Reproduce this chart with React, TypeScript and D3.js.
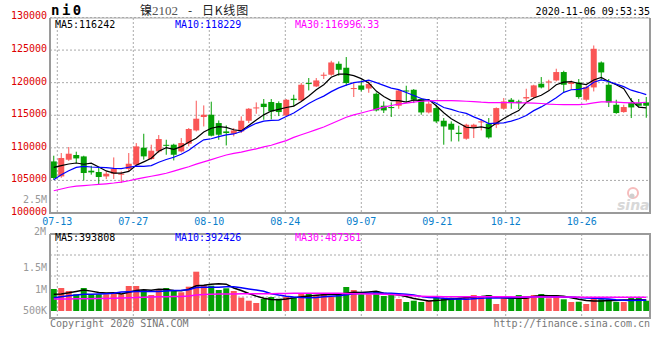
import React, { useEffect } from "react";
import * as d3 from "d3";

// trading days shown (07-10 .. 11-06)
const dates = [
  "07-10", "07-13", "07-14", "07-15", "07-16", "07-17", "07-20", "07-21", "07-22", "07-23",
  "07-24", "07-27", "07-28", "07-29", "07-30", "07-31", "08-03", "08-04", "08-05", "08-06",
  "08-07", "08-10", "08-11", "08-12", "08-13", "08-14", "08-17", "08-18", "08-19", "08-20",
  "08-21", "08-24", "08-25", "08-26", "08-27", "08-28", "08-31", "09-01", "09-02", "09-03",
  "09-04", "09-07", "09-08", "09-09", "09-10", "09-11", "09-14", "09-15", "09-16", "09-17",
  "09-18", "09-21", "09-22", "09-23", "09-24", "09-25", "09-28", "09-29", "09-30", "10-09",
  "10-12", "10-13", "10-14", "10-15", "10-16", "10-19", "10-20", "10-21", "10-22", "10-23",
  "10-26", "10-27", "10-28", "10-29", "10-30", "11-02", "11-03", "11-04", "11-05", "11-06",
];

const opens = [
  107915, 105614, 108176, 108897, 108682, 106490, 106290, 105610, 106030, 105870,
  106750, 107410, 110020, 108280, 109450, 110460, 110480, 109450, 110630, 112670,
  114730, 115080, 113800, 112520, 112160, 112520, 114160, 116050, 116770, 117030,
  116870, 114970, 117540, 117280, 119940, 119420, 121060, 121220, 122900, 122290,
  119020, 119570, 119100, 118300, 116460, 116260, 116460, 118800, 118910, 117490,
  115430, 116100, 114160, 113700, 112320, 111400, 113140, 113900, 113700, 113540,
  116000, 117380, 117120, 117580, 117790, 119840, 120030, 120340, 121630, 119790,
  120030, 117380, 119270, 123100, 119680, 116610, 115490, 116870, 116870, 116970,
];
const highs = [
  108790, 109204, 110124, 109404, 108790, 107250, 106900, 106440, 108530, 106380,
  109200, 110730, 112160, 110480, 111960, 111240, 110630, 111500, 113040, 117230,
  116510, 117080, 114200, 113440, 113040, 114830, 116100, 116970, 117490, 117490,
  117130, 117490, 118150, 119940, 120710, 120710, 121570, 123360, 123260, 123930,
  119940, 120340, 120210, 118500, 117120, 116970, 118960, 119530, 119020, 117640,
  117130, 116610, 114570, 114060, 113390, 113700, 113700, 114420, 114570, 116200,
  117640, 117640, 117380, 119070, 119680, 120860, 120450, 122140, 121830, 120340,
  120560, 119530, 125710, 123260, 120560, 117380, 116610, 117640, 117490, 117800,
];
const lows = [
  105110, 105400, 108000, 107670, 105000, 105880, 104340, 105200, 105220, 104600,
  106440, 107250, 108180, 108180, 109200, 108940, 108070, 109300, 110220, 112520,
  113280, 111760, 111240, 110370, 111760, 112270, 113800, 115230, 114310, 114370,
  114870, 114820, 116350, 117130, 118810, 119330, 120560, 121060, 121060, 119530,
  117800, 118650, 118450, 115580, 115340, 114730, 115990, 116970, 116870, 115080,
  115280, 113800, 110480, 110980, 110980, 111240, 111500, 112670, 111400, 113030,
  115840, 115990, 115950, 117120, 117640, 119120, 118810, 120190, 118450, 118960,
  117530, 117120, 118650, 120450, 116260, 115230, 115390, 114570, 116200, 114620,
];
const closes = [
  105370, 108437, 109097, 108376, 106136, 106230, 105520, 106030, 106750, 106030,
  107560, 110220, 108690, 109560, 111350, 110350, 108940, 110740, 112890, 114470,
  115080, 111860, 112010, 112270, 112670, 114160, 116000, 116200, 116260, 115590,
  115490, 117380, 117330, 119680, 119840, 120340, 121220, 123100, 121980, 119940,
  119180, 118910, 119790, 115740, 115740, 116100, 118800, 118650, 117380, 115430,
  116770, 114050, 113280, 112780, 112120, 113550, 113550, 114060, 111600, 116100,
  117120, 116870, 116870, 117790, 119580, 119270, 120190, 121630, 119680, 120100,
  117790, 119330, 125200, 121570, 116970, 115340, 116260, 116200, 116460, 116460,
];

const volumes = [
  786000, 821000, 714000, 596000, 821000, 596000, 596000, 596000, 668000, 596000,
  893000, 893000, 750000, 571000, 786000, 821000, 750000, 668000, 868000, 1404000,
  929000, 904000, 750000, 811000, 714000, 475000, 368000, 286000, 429000, 500000,
  439000, 500000, 475000, 632000, 632000, 571000, 607000, 511000, 607000, 857000,
  750000, 596000, 596000, 714000, 536000, 571000, 429000, 321000, 368000, 321000,
  368000, 475000, 454000, 475000, 475000, 536000, 571000, 511000, 571000, 250000,
  454000, 475000, 571000, 536000, 571000, 607000, 454000, 571000, 418000, 321000,
  332000, 250000, 475000, 418000, 418000, 321000, 321000, 475000, 475000, 368000,
];

// moving averages: first points (history not on chart)
const ma5Head = [107000, 107260, 107520, 107670];
const ma10Head = [105110, 105870, 106490, 107000, 107150, 107060, 107000, 106950, 106840];
const ma30 = [
  103420, 103680, 103950, 104120, 104200, 104300, 104380, 104480, 104600, 104750,
  104950, 105200, 105420, 105640, 105860, 106100, 106420, 106760, 107100, 107500,
  107850, 108200, 108550, 108900, 109150, 109350, 109600, 109850, 110150, 110400,
  110750, 111100, 111600, 112000, 112400, 112800, 113200, 113700, 114200, 114700,
  115050, 115350, 115650, 115950, 116250, 116500, 116700, 116850, 117000, 117150,
  117200, 117230, 117230, 117230, 117200, 117150, 117100, 117000, 116950, 116950,
  116950, 116950, 116900, 116900, 116850, 116800, 116700, 116650, 116620, 116620,
  116620, 116700, 116900, 117050, 117050, 117000, 116950, 116900, 116900, 116996,
];
const volMa5Head = [596000, 610000, 650000, 700000];
const volMa10Head = [475000, 511000, 546000, 571000, 596000, 600000, 610000, 620000, 630000];
const volMa30 = [
  430000, 430000, 432000, 434000, 436000, 440000, 445000, 450000, 455000, 460000,
  470000, 480000, 490000, 500000, 505000, 510000, 515000, 520000, 540000, 570000,
  590000, 600000, 605000, 608000, 610000, 612000, 614000, 616000, 618000, 620000,
  624000, 628000, 630000, 632000, 632000, 632000, 632000, 632000, 630000, 626000,
  620000, 615000, 610000, 605000, 600000, 590000, 575000, 560000, 545000, 530000,
  520000, 515000, 512000, 510000, 510000, 510000, 510000, 510000, 510000, 508000,
  506000, 505000, 504000, 503000, 502000, 501000, 500000, 500000, 498000, 496000,
  494000, 492000, 490000, 489000, 488000, 488000, 488000, 487000, 487000, 487000,
];

const priceTicks = [130000, 125000, 120000, 115000, 110000, 105000, 100000];
const dateTicks = ["07-13", "07-27", "08-10", "08-24", "09-07", "09-21", "10-12", "10-26"];
const volTicks = [
  { label: "1.5M", v: 1500000 },
  { label: "1M", v: 1000000 },
  { label: "500K", v: 500000 },
];
const priceMaText = ["MA5:116242", "MA10:118229", "MA30:116996.33"];
const volMaText = ["MA5:393808", "MA10:392426", "MA30:487361"];

const W = 660;
const H = 360;
const L = 50;
const R = 650;
const pTop = 18;
const pBot = 213;
const vTop = 234;
const vBot = 318;

const RED = "#fa5656";
const GREEN = "#04a004";
const MA_COLORS = ["#000000", "#0000ff", "#ff00ff"];
const GRID = "#aaaaaa";
const FRAME = "#9a9a9a";
const MONO = "'DejaVu Sans Mono', monospace";
const CJK = "'Noto Sans CJK SC', sans-serif";

const movingAvg = (vals: number[], n: number, head: number[]) =>
  vals.map((_, i) => (i < head.length ? head[i] : (d3.mean(vals.slice(i - n + 1, i + 1)) as number)));

const App = () => {
  useEffect(() => {
    document.body.style.margin = "0";
  }, []);

  const x = d3.scaleBand<string>().domain(dates).range([L, R]).paddingInner(0.2).paddingOuter(0.1);
  const cx = (d: string) => (x(d) as number) + x.bandwidth() / 2;
  // date grid lines sit slightly off the candle centres in the original
  const gx = d3.scaleLinear().domain([1, 70]).range([57.3, 581.7]);
  const y = d3.scaleLinear().domain([100000, 130000]).range([pBot, 17.5]);
  const yv = d3.scaleLinear().domain([0, 2000000]).range([311, 255]);
  const yvLabel = d3.scaleLinear().domain([500000, 1500000]).range([314, 271]);

  const ma5 = movingAvg(closes, 5, ma5Head);
  const ma10 = movingAvg(closes, 10, ma10Head);
  const vma5 = movingAvg(volumes, 5, volMa5Head);
  const vma10 = movingAvg(volumes, 10, volMa10Head);

  const priceLine = d3
    .line<number>()
    .x((_, i) => cx(dates[i]))
    .y((d) => y(d));
  const volLine = d3
    .line<number>()
    .x((_, i) => cx(dates[i]))
    .y((d) => yv(d));

  const bw = x.bandwidth();
  const up = (i: number) => closes[i] >= opens[i];

  return (
    <svg width={W} height={H} style={{ display: "block", background: "#fff" }}>
      <defs>
        <clipPath id="pclip">
          <rect x={L} y={pTop} width={R - L} height={pBot - pTop} />
        </clipPath>
      </defs>

      {/* header */}
      <text x={51} y={15} fontFamily={MONO} fontWeight="bold" fontSize={14} letterSpacing={2.5} fill="#000">
        ni0
      </text>
      <text x={140} y={15} fontFamily={CJK} fontSize={12} fill="#222">
        镍<tspan fill="#555" fontFamily="'Liberation Serif', serif" fontSize={13}>2102</tspan>
      </text>
      <text x={188} y={15} fontFamily={CJK} fontSize={12} fill="#222">
        -
      </text>
      <text x={202} y={15} fontFamily={CJK} fontSize={12} fill="#222" letterSpacing={0.8}>
        日K线图
      </text>
      <text x={650} y={15} textAnchor="end" fontFamily={MONO} fontSize={10} fill="#000">
        2020-11-06 09:53:35
      </text>

      {/* price grid */}
      {priceTicks.slice(0, 6).map((t) => (
        <line key={t} x1={L} x2={R} y1={y(t)} y2={y(t)} stroke={GRID} strokeDasharray="2,2" />
      ))}
      {dateTicks.map((d) => {
        const gxv = gx(dates.indexOf(d));
        return (
          <g key={d}>
            <line x1={gxv} x2={gxv} y1={pTop} y2={pBot} stroke={GRID} strokeDasharray="2,2" />
            <line x1={gxv} x2={gxv} y1={vTop} y2={vBot} stroke={GRID} strokeDasharray="2,2" />
            <text x={gxv} y={225} textAnchor="middle" fontFamily={MONO} fontSize={10} fill="#0a7fcc">
              {d}
            </text>
          </g>
        );
      })}
      {priceTicks.map((t) => (
        <text key={t} x={47} y={t === 130000 ? 19 : y(t) + 2} textAnchor="end" fontFamily={MONO} fontSize={10} fill="#dd0000">
          {t}
        </text>
      ))}
      <text x={47} y={203} textAnchor="end" fontFamily={MONO} fontSize={10} fill="#999">
        2.5M
      </text>

      {/* watermark */}
      <g opacity={0.7}>
        <circle cx={633} cy={193} r={5} fill="none" stroke="#f3a0a0" strokeWidth={2} />
        <circle cx={632} cy={196} r={2.5} fill="#bbb" />
        <text x={617} y={210} fontFamily="'DejaVu Sans', sans-serif" fontStyle="italic" fontWeight="bold" fontSize={14} fill="#c8c8c8">
          sina
        </text>
      </g>

      {/* candles */}
      <g clipPath="url(#pclip)">
        {dates.map((d, i) => {
          const c = up(i) ? RED : GREEN;
          const top = y(Math.max(opens[i], closes[i]));
          const bot = y(Math.min(opens[i], closes[i]));
          return (
            <g key={d}>
              <line x1={cx(d)} x2={cx(d)} y1={y(highs[i])} y2={y(lows[i])} stroke={c} strokeWidth={1} />
              <rect x={x(d)} y={top} width={bw} height={Math.max(1, bot - top)} fill={c} />
            </g>
          );
        })}
        {[ma5, ma10, ma30].map((m, k) => (
          <path key={k} d={priceLine(m) as string} fill="none" stroke={MA_COLORS[k]} strokeWidth={1.2} />
        ))}
      </g>

      {/* price frame */}
      <line x1={L} x2={R} y1={pTop} y2={pTop} stroke={GRID} />
      <line x1={L} x2={L} y1={pTop} y2={pBot + 1} stroke={FRAME} strokeWidth={2} />
      <line x1={R} x2={R} y1={pTop} y2={pBot + 1} stroke={FRAME} strokeWidth={2} />
      <line x1={L} x2={R + 1} y1={pBot} y2={pBot} stroke={FRAME} strokeWidth={2} />

      {priceMaText.map((t, k) => (
        <text key={t} x={55 + k * 120} y={28} fontFamily={MONO} fontSize={10} fill={MA_COLORS[k]}>
          {t}
        </text>
      ))}

      {/* volume grid */}
      {[1, 2, 3].map((k) => {
        const gy = vTop + ((vBot - vTop) * k) / 4;
        return <line key={k} x1={L} x2={R} y1={gy} y2={gy} stroke={GRID} strokeDasharray="2,2" />;
      })}

      {/* volume bars */}
      {dates.map((d, i) => (
        <rect key={d} x={x(d)} y={yv(volumes[i])} width={bw} height={yv(0) - yv(volumes[i])} fill={up(i) ? RED : GREEN} />
      ))}
      {[vma5, vma10, volMa30].map((m, k) => (
        <path key={k} d={volLine(m) as string} fill="none" stroke={MA_COLORS[k]} strokeWidth={1.5} />
      ))}

      {/* volume frame */}
      <line x1={L} x2={R + 1} y1={vTop} y2={vTop} stroke={FRAME} strokeWidth={2} />
      <line x1={L} x2={L} y1={vTop} y2={vBot + 1} stroke={FRAME} strokeWidth={2} />
      <line x1={R} x2={R} y1={vTop} y2={vBot + 1} stroke={FRAME} strokeWidth={2} />
      <line x1={L} x2={R + 1} y1={vBot} y2={vBot} stroke={FRAME} strokeWidth={2} />

      <text x={46} y={235} textAnchor="end" fontFamily={MONO} fontSize={10} fill="#999">
        2M
      </text>
      {volTicks.map((t) => (
        <text key={t.label} x={47} y={yvLabel(t.v)} textAnchor="end" fontFamily={MONO} fontSize={10} fill="#999">
          {t.label}
        </text>
      ))}
      {volMaText.map((t, k) => (
        <text key={t} x={55 + k * 120} y={241} fontFamily={MONO} fontSize={10} fill={MA_COLORS[k]}>
          {t}
        </text>
      ))}

      <text x={50} y={327} fontFamily={MONO} fontSize={10} fill="#777">
        Copyright 2020 SINA.COM
      </text>
      <text x={650} y={327} textAnchor="end" fontFamily={MONO} fontSize={10} fill="#777">
        http://finance.sina.com.cn
      </text>
    </svg>
  );
};

export default App;
